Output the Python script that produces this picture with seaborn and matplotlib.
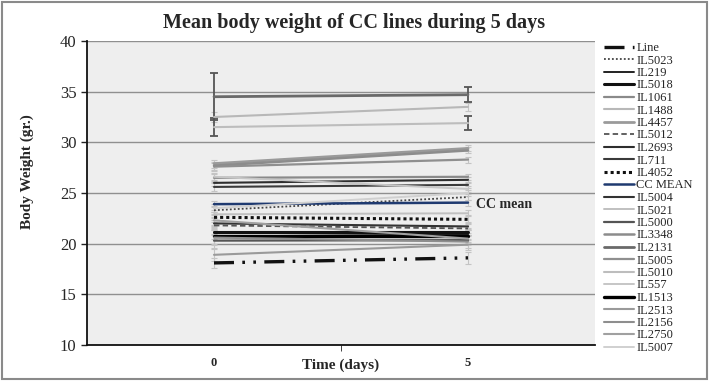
import matplotlib
matplotlib.use('Agg')
import matplotlib.pyplot as plt
from matplotlib.lines import Line2D
from matplotlib.patches import Rectangle
import seaborn as sns
import pandas as pd
import numpy as np

sns.set_style("white")
plt.rcParams['font.family'] = ['Liberation Serif', 'DejaVu Serif']

days = ["0", "5"]
names = ["Line", "IL5023", "IL219", "IL5018", "IL1061", "IL1488", "IL4457", "IL5012",
         "IL2693", "IL711", "IL4052", "CC MEAN", "IL5004", "IL5021", "IL5000", "IL3348",
         "IL2131", "IL5005", "IL5010", "IL557", "IL1513", "IL2513", "IL2156", "IL2750", "IL5007"]
day0 = [18.1, 23.3, 21.1, 21.2, 26.5, 32.5, 27.9, 21.8, 26.0, 25.6, 22.6, 23.9, 22.0,
        22.9, 20.3, 27.7, 34.5, 27.6, 31.5, 26.6, 20.8, 18.9, 20.6, 22.3, 23.5]
day5 = [18.6, 24.6, 20.9, 21.2, 26.6, 33.5, 29.4, 21.5, 26.3, 25.8, 22.4, 24.05, 21.7,
        23.0, 20.35, 29.2, 34.7, 28.3, 31.9, 25.4, 20.8, 19.9, 20.2, 20.5, 25.0]
err0 = [0.5, 0.4, 0.6, 0.3, 0.4, 0.5, 0.4, 0.5, 0.3, 0.4, 0.5, 0.3, 0.6, 0.4, 0.7,
        0.4, 2.3, 0.4, 0.9, 0.4, 0.8, 0.6, 0.7, 0.5, 0.4]
err5 = [0.6, 0.3, 0.4, 0.3, 0.3, 0.4, 0.3, 0.4, 0.3, 0.3, 0.4, 0.3, 0.4, 0.3, 0.5,
        0.3, 0.75, 0.3, 0.7, 0.3, 0.6, 0.5, 0.6, 0.4, 0.3]

colors = ['#111111', '#444444', '#222222', '#111111', '#8a8a8a', '#b8b8b8', '#9a9a9a',
          '#555555', '#2e2e2e', '#3a3a3a', '#111111', '#1f3a70', '#333333', '#c0c0c0',
          '#555555', '#8c8c8c', '#6a6a6a', '#8f8f8f', '#bdbdbd', '#c6c6c6', '#000000',
          '#9a9a9a', '#8e8e8e', '#a0a0a0', '#d0d0d0']
widths = [2.4, 1.3, 1.4, 2.2, 1.6, 1.5, 2.0, 1.3, 1.5, 1.5, 2.2, 1.8, 1.5, 1.4, 1.6,
          1.8, 2.0, 1.6, 1.5, 1.4, 2.4, 1.5, 1.5, 1.5, 1.4]
styles = [(6, 2.5, 0.8, 2.5, 0.8, 2.5), (1, 1.2), '', '', '', '', '', (3, 1.8), '', '',
          (1, 1), '', '', '', '', '', '', '', '', '', '', '', '', '', '']

df = pd.DataFrame({
    'name': np.repeat(names, 2),
    'day': days * len(names),
    'weight': np.ravel(np.column_stack([day0, day5])),
})

fig = plt.figure(figsize=(7.09, 3.81), dpi=100)
ax = fig.add_axes([87/709, 1-345/381, 508/709, 304/381])
ax.set_facecolor('#eeeeee')

sns.lineplot(data=df, x='day', y='weight', hue='name', style='name', size='name',
             palette=dict(zip(names, colors)), dashes=dict(zip(names, styles)),
             sizes=dict(zip(names, widths)), hue_order=names, style_order=names,
             size_order=names, legend=False, ax=ax)

# error bars at both ends
for i, n in enumerate(names):
    big = err0[i] > 0.8
    ax.errorbar([0, 1], [day0[i], day5[i]], yerr=[err0[i], err5[i]], fmt='none',
                ecolor='#555555' if big else '#c4c4c4', elinewidth=1.3 if big else 0.8,
                capsize=3 if big else 2, capthick=1.3 if big else 0.8, zorder=1)

ax.set_ylim(10, 40)
ax.set_xlim(-0.5, 1.5)
ax.set_yticks(range(10, 41, 5))
ax.yaxis.grid(True, color='#8f8f8f', lw=1)
ax.set_axisbelow(True)
ax.tick_params(axis='y', labelsize=12, length=4, width=1, direction='out', left=True, color='#222222')
ax.set_xticks([0, 1])
ax.set_xticklabels(days, fontweight='bold', fontsize=9)
ax.tick_params(axis='x', length=0, pad=9)
ax.set_xticks([0.5], minor=True)
ax.tick_params(axis='x', which='minor', length=4, direction='out', bottom=True, color='#222222')
for s in ['top', 'right']:
    ax.spines[s].set_visible(False)
ax.spines['left'].set_color('#111111')
ax.spines['bottom'].set_color('#111111')
ax.spines['left'].set_linewidth(1.3)
ax.spines['bottom'].set_linewidth(1.3)

ax.set_xlabel('Time (days)', fontweight='bold', fontsize=11, va='center')
ax.xaxis.set_label_coords(0.5, -0.066)
ax.set_ylabel('Body Weight (gr.)', fontweight='bold', fontsize=11)
ax.yaxis.set_label_coords(-0.104, 0.57)
fig.suptitle('Mean body weight of CC lines during 5 days', fontweight='bold',
             fontsize=14.5, x=0.5, y=0.94, va='center')

ax.text(1.03, day5[names.index('CC MEAN')] - 0.15, 'CC mean', fontweight='bold',
        fontsize=10, va='center', ha='left')

handles = [Line2D([], [], color=c, lw=w, dashes=s if s != '' else (None, None))
           for c, w, s in zip(colors, widths, styles)]
fig.legend(handles, names, loc='upper left', bbox_to_anchor=(604/709, 1-42/381),
           frameon=False, fontsize=9, labelspacing=0.04, handlelength=2.4,
           handletextpad=0.2, borderaxespad=0, borderpad=0)

fig.patches.append(Rectangle((0.003, 0.005), 0.994, 0.99, transform=fig.transFigure,
                             fill=False, edgecolor='#8a8a8a', lw=1.5))

plt.savefig('out.png', dpi=100)
plt.close()
